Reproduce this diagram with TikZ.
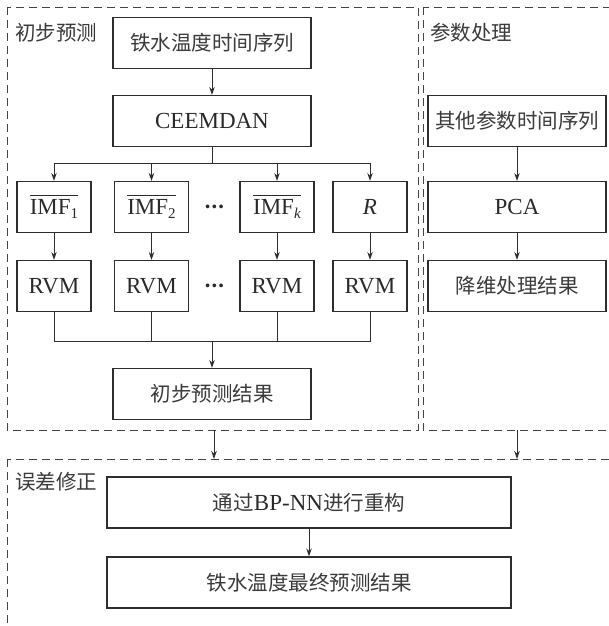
\RequirePackage{fix-cm}
\documentclass[tikz,border=0pt]{standalone}
\usepackage{fontspec}
\setmainfont{Liberation Serif}
\newfontfamily\cjk{Noto Sans CJK SC}
\usetikzlibrary{arrows.meta}
\definecolor{linec}{HTML}{2E2E2E}
\definecolor{txtc}{HTML}{2A2A2A}
\definecolor{cjkc}{HTML}{3A3A3A}
\definecolor{framec}{HTML}{444444}
\newcommand\imfsym[1]{\vbox{\hrule height 1pt\kern 3.5pt\hbox{IMF\raisebox{-4pt}{\fontsize{15}{15}\selectfont #1}}}}
\begin{document}
\begin{tikzpicture}[x=1pt,y=-1pt,
  box/.style={draw=linec,line width=1.2pt,minimum height=51pt,inner sep=0pt,text=txtc,
    font=\fontsize{23}{26}\selectfont},
  wide/.style={box,minimum width=198pt},
  small/.style={box,minimum width=74pt},
  cn/.style={text=cjkc,font=\cjk\fontsize{20.5}{24}\selectfont},
  lbl/.style={anchor=west,inner sep=0pt,text=cjkc,font=\cjk\fontsize{20.5}{24}\selectfont},
  frame/.style={draw=framec,line width=0.9pt,dash pattern=on 8pt off 5pt},
  conn/.style={draw=linec,line width=0.9pt},
  arr/.style={conn,-{Stealth[length=8pt,width=5.5pt]}},
  dotsn/.style={inner sep=0pt,text=txtc,font=\bfseries\fontsize{23}{26}\selectfont}]
\useasboundingbox (0,0) rectangle (609,626);
\clip (0,0) rectangle (609,626);
% frames
\draw[frame] (7,7) rectangle (418,430);
\draw[frame] (423,7) rectangle (640,430);
\draw[frame] (7,459) rectangle (640,660);
% labels
\node[lbl] (l1) at (15,33) {初步预测};
\node[lbl] (l2) at (430,33) {参数处理};
\node[lbl] (l3) at (15,482) {误差修正};
% left column
\node[wide,cn] (a) at (212,43) {铁水温度时间序列};
\node[wide] (b) at (212,121) {CEEMDAN};
\node[small] (i1) at (54,207) {\imfsym{1}};
\node[small] (i2) at (151.5,207) {\imfsym{2}};
\node[small] (ik) at (277,207) {\imfsym{\textit{k}}};
\node[small] (ir) at (370,207) {\textit{R}};
\node[dotsn] (d1) at (214.5,210) {\char"00B7\kern-1pt\char"00B7\kern-1pt\char"00B7};
\node[small] (r1) at (54,286) {RVM};
\node[small] (r2) at (151.5,286) {RVM};
\node[small] (rk) at (277,286) {RVM};
\node[small] (rr) at (370,286) {RVM};
\node[dotsn] (d2) at (214.5,289) {\char"00B7\kern-1pt\char"00B7\kern-1pt\char"00B7};
\node[wide,cn] (c) at (212,394) {初步预测结果};
% right column
\node[box,cn,minimum width=178pt] (p1) at (517,121) {其他参数时间序列};
\node[box,minimum width=178pt] (p2) at (517,207) {PCA};
\node[box,cn,minimum width=178pt] (p3) at (517,286) {降维处理结果};
% bottom
\node[box,minimum width=404pt] (e) at (309,502.5) {{\cjk\fontsize{20.5}{24}\selectfont\color{cjkc}通过}BP-NN{\cjk\fontsize{20.5}{24}\selectfont\color{cjkc}进行重构}};
\node[box,cn,minimum width=404pt] (f) at (309,582.5) {铁水温度最终预测结果};
% connectors
\coordinate (br) at (212,163);
\coordinate (mg) at (212,341);
\coordinate (o1) at (214,430);
\coordinate (t1) at (214,459);
\coordinate (o2) at (517,430);
\coordinate (t2) at (517,459);
\draw[arr] (a) -- (b);
\draw[conn] (b.south) -- (br);
\foreach \n in {i1,i2,ik,ir} \draw[arr] (br) -| (\n.north);
\draw[arr] (i1) -- (r1);
\draw[arr] (i2) -- (r2);
\draw[arr] (ik) -- (rk);
\draw[arr] (ir) -- (rr);
\foreach \n in {r1,r2,rk,rr} \draw[conn] (\n.south) |- (mg);
\draw[arr] (mg) -- (c.north);
\draw[arr] (p1) -- (p2);
\draw[arr] (p2) -- (p3);
\draw[arr] (o1) -- (t1);
\draw[arr] (o2) -- (t2);
\draw[arr] (e) -- (f);
\end{tikzpicture}
\end{document}
